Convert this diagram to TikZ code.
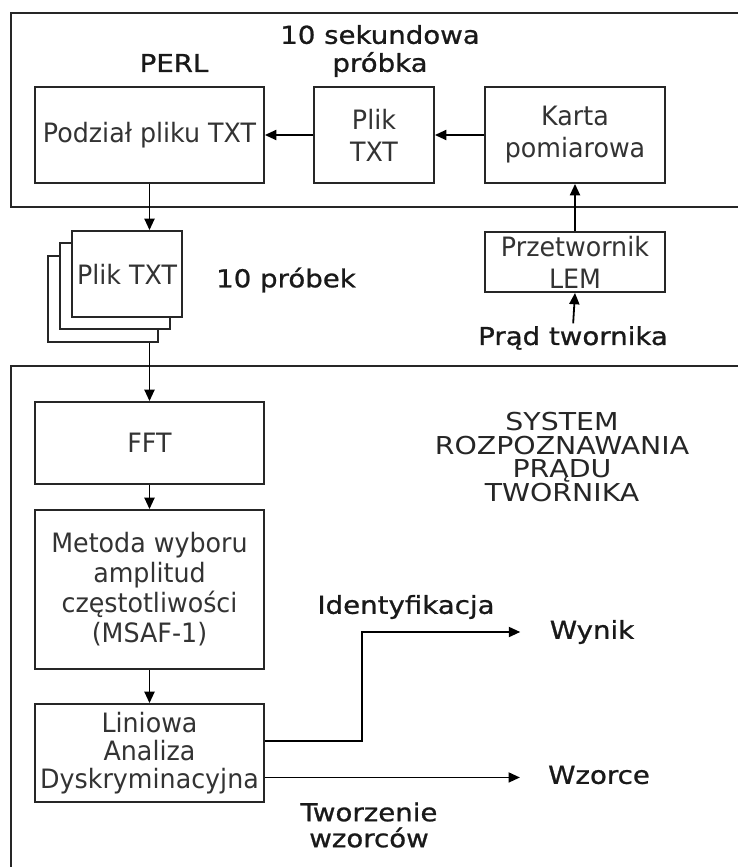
\documentclass[tikz,border=0pt]{standalone}
\usepackage{fontspec}
\setmainfont{DejaVu Sans}[FakeStretch=0.95]
\newfontfamily\opisfont{DejaVu Sans}[FakeStretch=1.12,FakeBold=0.9]
\newfontfamily\tytulfont{DejaVu Sans}[FakeStretch=1.15]
\usetikzlibrary{arrows.meta,calc}

\begin{document}
\begin{tikzpicture}[x=0.75pt,y=0.75pt,yscale=-1,xscale=1,
	blok/.style={draw=black!85,line width=1.4pt,fill=white,align=center,inner sep=1pt,text=black!80,font=\fontsize{20}{24}\selectfont},
	opis/.style={align=center,inner sep=0pt,text=black!90,font=\opisfont\fontsize{18.5}{21}\selectfont},
	strz/.style={line width=1.35pt,-{Triangle[length=8.5pt,width=7.5pt]}}]
	\useasboundingbox (0,0) rectangle (738,867);
	\clip (0,0) rectangle (738,867);
	\draw [line width=1.5pt,black!85] (760,13) -- (11,13) -- (11,207) -- (760,207) ;
	\draw [line width=1.5pt,black!85] (760,366) -- (11,366) -- (11,900) ;
	\node [blok,minimum width=171.75pt,minimum height=72pt] (pod) at (149.5,135) {Podział pliku TXT};
	\node [blok,minimum width=90pt,minimum height=72pt] (plik) at (374,135) {Plik\\TXT};
	\node [blok,minimum width=135pt,minimum height=72pt] (karta) at (575,135) {Karta\\pomiarowa};
	\node [opis] (perl) at (174,63) {PERL};
	\node [opis] (sek) at (380,51) {10 sekundowa\\próbka};
	\node [blok,minimum width=82.5pt,minimum height=64.5pt] (txt3) at (103,299) {};
	\node [blok,minimum width=82.5pt,minimum height=64.5pt] (txt2) at (115,286) {};
	\node [blok,minimum width=82.5pt,minimum height=64.5pt] (txt1) at (127,274) {Plik TXT};
	\node [opis] (probki) at (286,280) {10 próbek};
	\node [blok,minimum width=135pt,minimum height=45pt] (lem) at (575,262) {Przetwornik\\LEM};
	\node [opis] (prad) at (573,338) {Prąd twornika};
	\node [blok,minimum width=171.75pt,minimum height=61.5pt] (fft) at (149.5,443) {FFT};
	\node [blok,minimum width=171.75pt,minimum height=119.25pt,font=\fontsize{20}{22.5}\selectfont] (msaf) at (149.5,589.5) {Metoda wyboru\\amplitud\\częstotliwości\\(MSAF-1)};
	\node [blok,minimum width=171.75pt,minimum height=73.5pt,font=\fontsize{20}{21}\selectfont] (lda) at (149.5,753) {Liniowa\\Analiza\\Dyskryminacyjna};
	\node [align=center,inner sep=0pt,text=black!85,font=\tytulfont\fontsize{18.5}{17.8}\selectfont] (sys) at (562,457) {SYSTEM\\ROZPOZNAWANIA\\PRĄDU\\TWORNIKA};
	\node [opis] (ident) at (406,607) {Identyfikacja};
	\node [opis] (wynik) at (592,632) {Wynik};
	\node [opis] (wzorce) at (599,775) {Wzorce};
	\node [opis,font=\opisfont\fontsize{18.5}{19.5}\selectfont] (tworz) at (369,825) {Tworzenie\\wzorców};
	\coordinate (wyj1) at ($(lda.north east)!0.38!(lda.south east)$);
	\coordinate (wyj2) at ($(lda.north east)!0.745!(lda.south east)$);
	\draw [strz] (plik.west) -- (pod.east) ;
	\draw [strz] (karta.west) -- (plik.east) ;
	\draw [strz] (pod.south) -- (pod.south |- txt1.north) ;
	\draw [strz] (txt3.south -| fft.north) -- (fft.north) ;
	\draw [strz] (fft.south) -- (msaf.north) ;
	\draw [strz] (msaf.south) -- (lda.north) ;
	\draw [strz] (lem.north) -- (karta.south) ;
	\draw [strz,shorten <=2pt] (prad.north) -- (lem.south) ;
	\draw [strz,shorten >=22pt] (wyj1) -- ++(97,0) |- (wynik.west) ;
	\draw [strz,shorten >=21pt] (wyj2) -- (wyj2 -| wzorce.west) ;
\end{tikzpicture}
\end{document}
